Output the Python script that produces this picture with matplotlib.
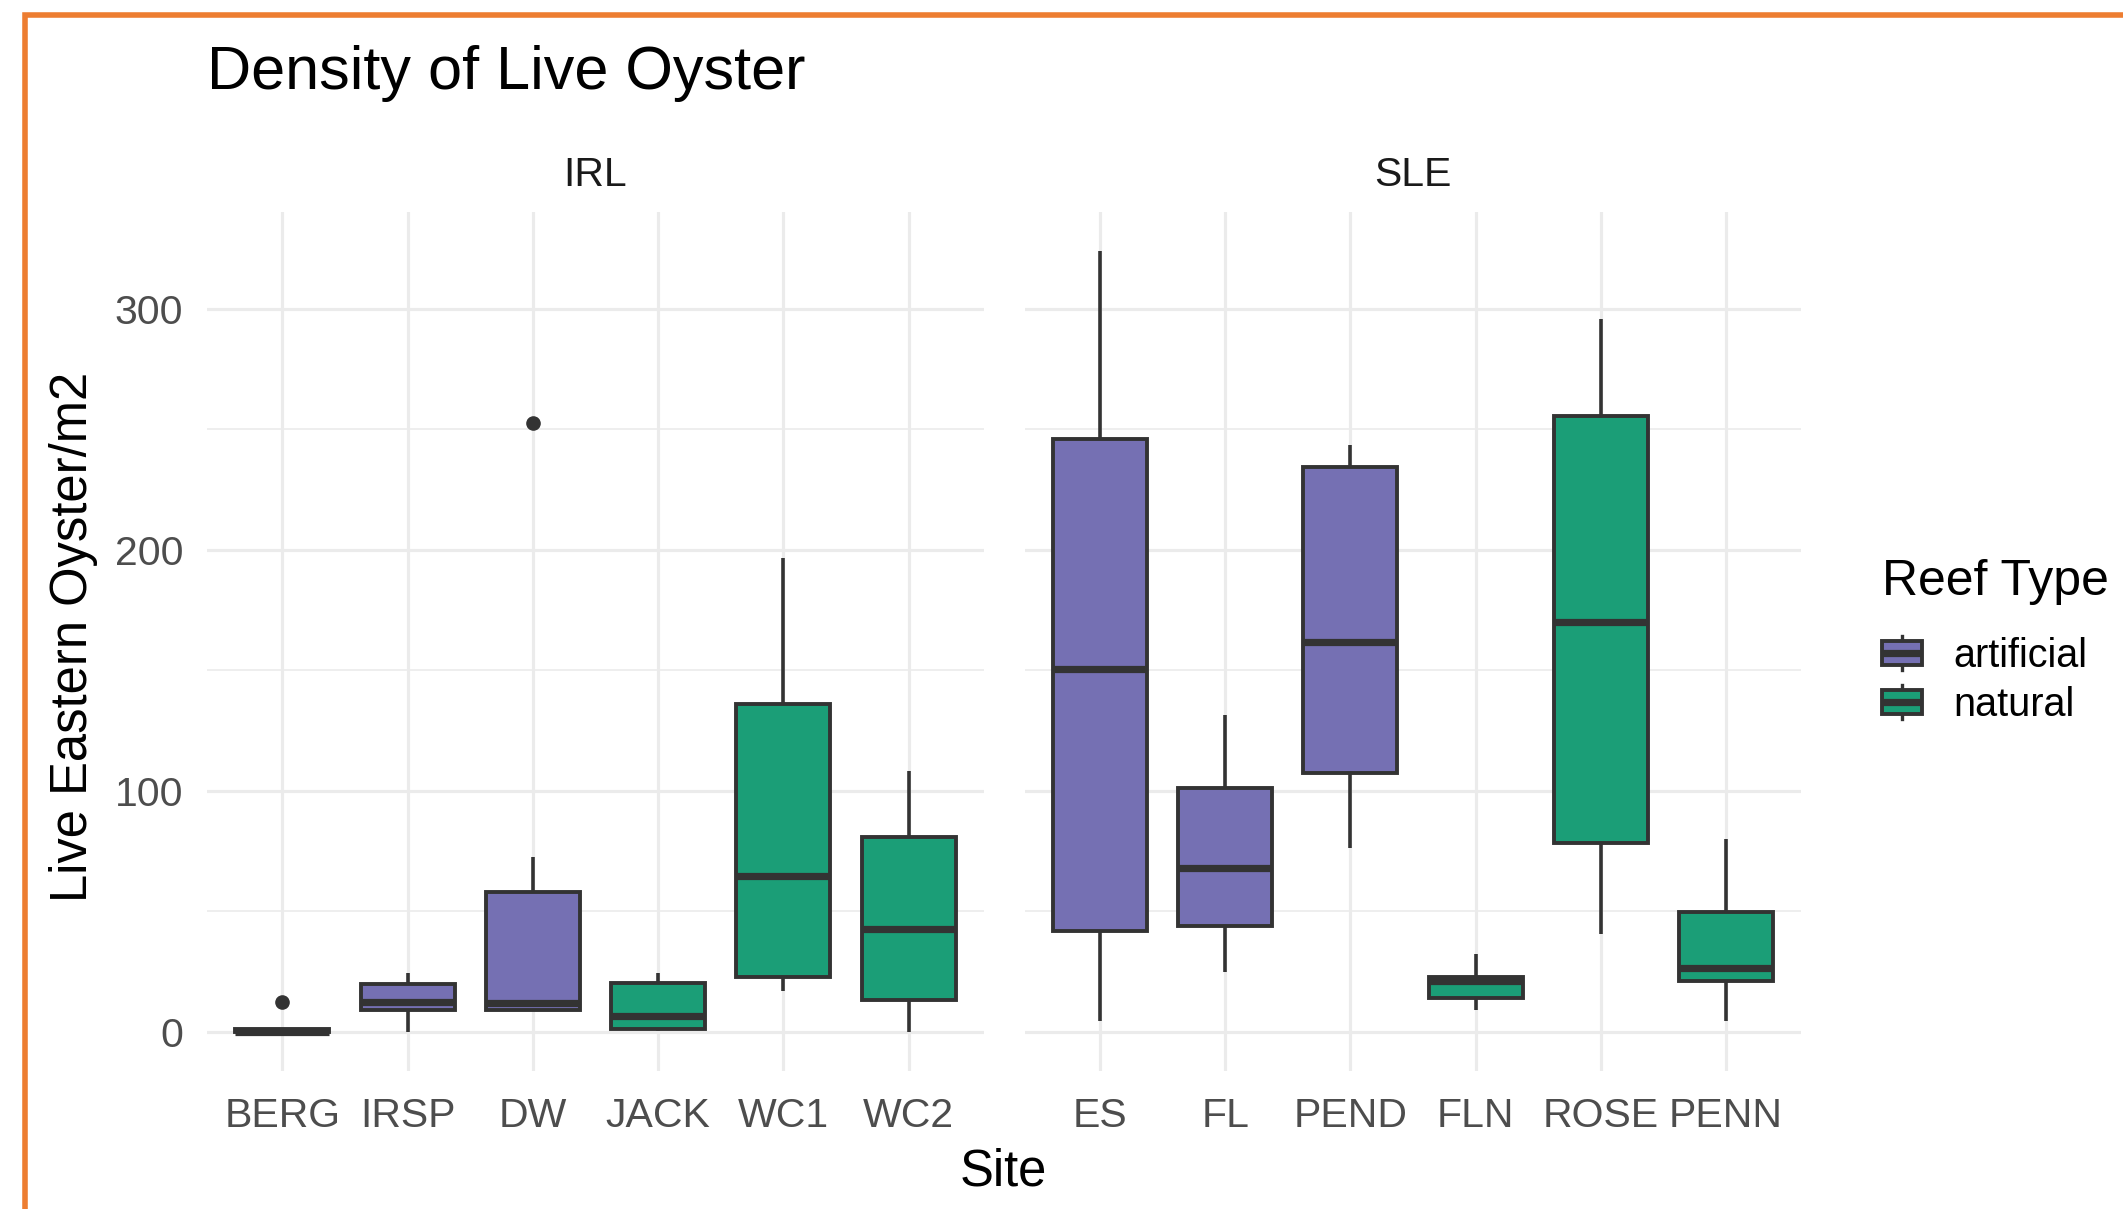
import matplotlib
matplotlib.use("Agg")
import matplotlib.pyplot as plt
from matplotlib.patches import Rectangle, Patch
from matplotlib.lines import Line2D
from matplotlib.legend_handler import HandlerBase

plt.rcParams['font.family'] = ['Liberation Sans', 'DejaVu Sans']

# ---------------- data ----------------
irl_sites = ["BERG", "IRSP", "DW", "JACK", "WC1", "WC2"]
irl_type = ["artificial", "artificial", "artificial", "natural", "natural", "natural"]
irl_whislo = [0.0, 0.0, 9.1, 0.4, 17.0, 0.0]
irl_q1 = [0.0, 9.0, 9.1, 1.3, 23.0, 13.1]
irl_med = [0.0, 12.4, 11.9, 6.5, 64.8, 42.6]
irl_q3 = [1.3, 19.8, 58.1, 20.4, 136.1, 80.9]
irl_whishi = [1.3, 24.4, 72.6, 24.4, 196.7, 108.1]
irl_fliers = [[12.4], [], [252.8], [], [], []]

sle_sites = ["ES", "FL", "PEND", "FLN", "ROSE", "PENN"]
sle_type = ["artificial", "artificial", "artificial", "natural", "natural", "natural"]
sle_whislo = [4.7, 24.9, 76.4, 9.3, 40.8, 4.7]
sle_q1 = [42.0, 43.9, 107.5, 14.0, 78.5, 21.1]
sle_med = [150.5, 68.1, 161.8, 21.1, 169.9, 26.6]
sle_q3 = [246.1, 101.1, 234.5, 23.0, 255.6, 49.8]
sle_whishi = [324.0, 131.5, 243.7, 32.5, 295.9, 80.0]
sle_fliers = [[], [], [], [], [], []]

y_ticks = [0, 100, 200, 300]
y_minor = [50, 150, 250]
legend_levels = ["artificial", "natural"]
type_colors = {"artificial": "#7570B3", "natural": "#1B9E77"}
EDGE = "#333333"
GRID = "#EBEBEB"

BOX_LW = 2.8
MED_LW = 5.2

W, H = 2123, 1209
fig = plt.figure(figsize=(W / 100, H / 100), dpi=100)
fig.patch.set_facecolor("white")

# panel geometry in pixels
bot_px, top_px = 1071, 212
panels = [(207, 984), (1025, 1801)]
axes = []
for (l, r) in panels:
    ax = fig.add_axes([l / W, (H - bot_px) / H, (r - l) / W, (bot_px - top_px) / H])
    axes.append(ax)

all_vals = irl_whislo + irl_whishi + sle_whislo + sle_whishi + sum(irl_fliers, []) + sum(sle_fliers, [])
vmin, vmax = min(all_vals), max(all_vals)
rng = vmax - vmin
ylim = (vmin - 0.05 * rng, vmax + 0.05 * rng)

facets = [
    ("IRL", irl_sites, irl_type, irl_whislo, irl_q1, irl_med, irl_q3, irl_whishi, irl_fliers),
    ("SLE", sle_sites, sle_type, sle_whislo, sle_q1, sle_med, sle_q3, sle_whishi, sle_fliers),
]

for i, (ax, f) in enumerate(zip(axes, facets)):
    name, sites, types, lo, q1, med, q3, hi, fl = f
    stats = []
    for k in range(len(sites)):
        stats.append(dict(med=med[k], q1=q1[k], q3=q3[k], whislo=lo[k], whishi=hi[k],
                          fliers=fl[k], label=sites[k]))
    pos = list(range(1, len(sites) + 1))
    bp = ax.bxp(stats, positions=pos, widths=0.75, patch_artist=True, showcaps=False,
                boxprops=dict(edgecolor=EDGE, linewidth=BOX_LW),
                whiskerprops=dict(color=EDGE, linewidth=2.6, solid_capstyle='butt'),
                medianprops=dict(color=EDGE, linewidth=MED_LW, solid_capstyle='butt'),
                flierprops=dict(marker='o', markerfacecolor=EDGE, markeredgecolor=EDGE,
                                markersize=9.5, linestyle='none'),
                zorder=3)
    for patch, t in zip(bp['boxes'], types):
        patch.set_facecolor(type_colors[t])
        patch.set_joinstyle('miter')
    ax.set_xlim(0.4, len(sites) + 0.6)
    ax.set_ylim(*ylim)
    ax.set_xticks(pos)
    ax.set_xticklabels(sites, fontsize=29.5, color="#4D4D4D")
    ax.set_yticks(y_ticks)
    ax.set_yticks(y_minor, minor=True)
    ax.set_yticklabels([str(v) for v in y_ticks], fontsize=29.5, color="#4D4D4D")
    ax.tick_params(axis='both', which='both', length=0)
    ax.tick_params(axis='x', pad=18.5)
    ax.tick_params(axis='y', pad=17)
    if i > 0:
        ax.tick_params(axis='y', labelleft=False)
    ax.grid(which='major', color=GRID, linewidth=2.3)
    ax.grid(which='minor', axis='y', color=GRID, linewidth=1.2)
    ax.set_axisbelow(True)
    for s in ax.spines.values():
        s.set_visible(False)
    ax.set_facecolor("white")
    ax.text(0.5, 1 + (top_px - 175) / (bot_px - top_px), name, transform=ax.transAxes,
            ha='center', va='center', fontsize=29.5, color="#1A1A1A")

# titles / labels
fig.text(207 / W, 1 - 89 / H, "Density of Live Oyster", fontsize=44, color="black",
         ha='left', va='baseline')
fig.text(1003 / W, 1 - 1172 / H, "Site", fontsize=36.5, color="black", ha='center', va='center')
fig.text(74 / W, 1 - 637 / H, "Live Eastern Oyster/m2", fontsize=36.5, color="black",
         ha='center', va='center', rotation=90)


class BoxKey(HandlerBase):
    def create_artists(self, legend, orig_handle, xdescent, ydescent, width, height,
                       fontsize, trans):
        fc = orig_handle.get_facecolor()
        x0, y0 = -xdescent, -ydescent
        cx, cy = x0 + width / 2, y0 + height / 2
        bh = height * 0.7
        wl = Line2D([cx, cx], [y0, y0 + height], color=EDGE, lw=2.4, transform=trans)
        r = Rectangle((x0, cy - bh / 2), width, bh, facecolor=fc, edgecolor=EDGE, lw=BOX_LW,
                      transform=trans)
        ml = Line2D([x0, x0 + width], [cy, cy], color=EDGE, lw=MED_LW, transform=trans,
                    solid_capstyle='butt')
        return [wl, r, ml]


# legend title drawn as text, entries as a legend
fig.text(1882 / W, 1 - 582 / H, "Reef Type", fontsize=36, color="black",
         ha='left', va='center')
handles = [Patch(facecolor=type_colors[t]) for t in legend_levels]
leg = fig.legend(handles, legend_levels, handler_map={Patch: BoxKey()},
                 loc='center left', bbox_to_anchor=(1882 / W, 1 - 680 / H),
                 frameon=False, fontsize=28.5,
                 handlelength=1.0, handleheight=0.95,
                 handletextpad=0.8, labelspacing=0.27, borderpad=0, borderaxespad=0)
for t in leg.get_texts():
    t.set_color("black")

# orange screenshot frame
frame = Rectangle((25 / W, -0.2), 1.3, 1.2 - 14.5 / H, transform=fig.transFigure,
                  fill=False, edgecolor="#ED7D31", linewidth=4.0, clip_on=False)
fig.patches.append(frame)

fig.savefig("out.png", dpi=100, facecolor="white")
